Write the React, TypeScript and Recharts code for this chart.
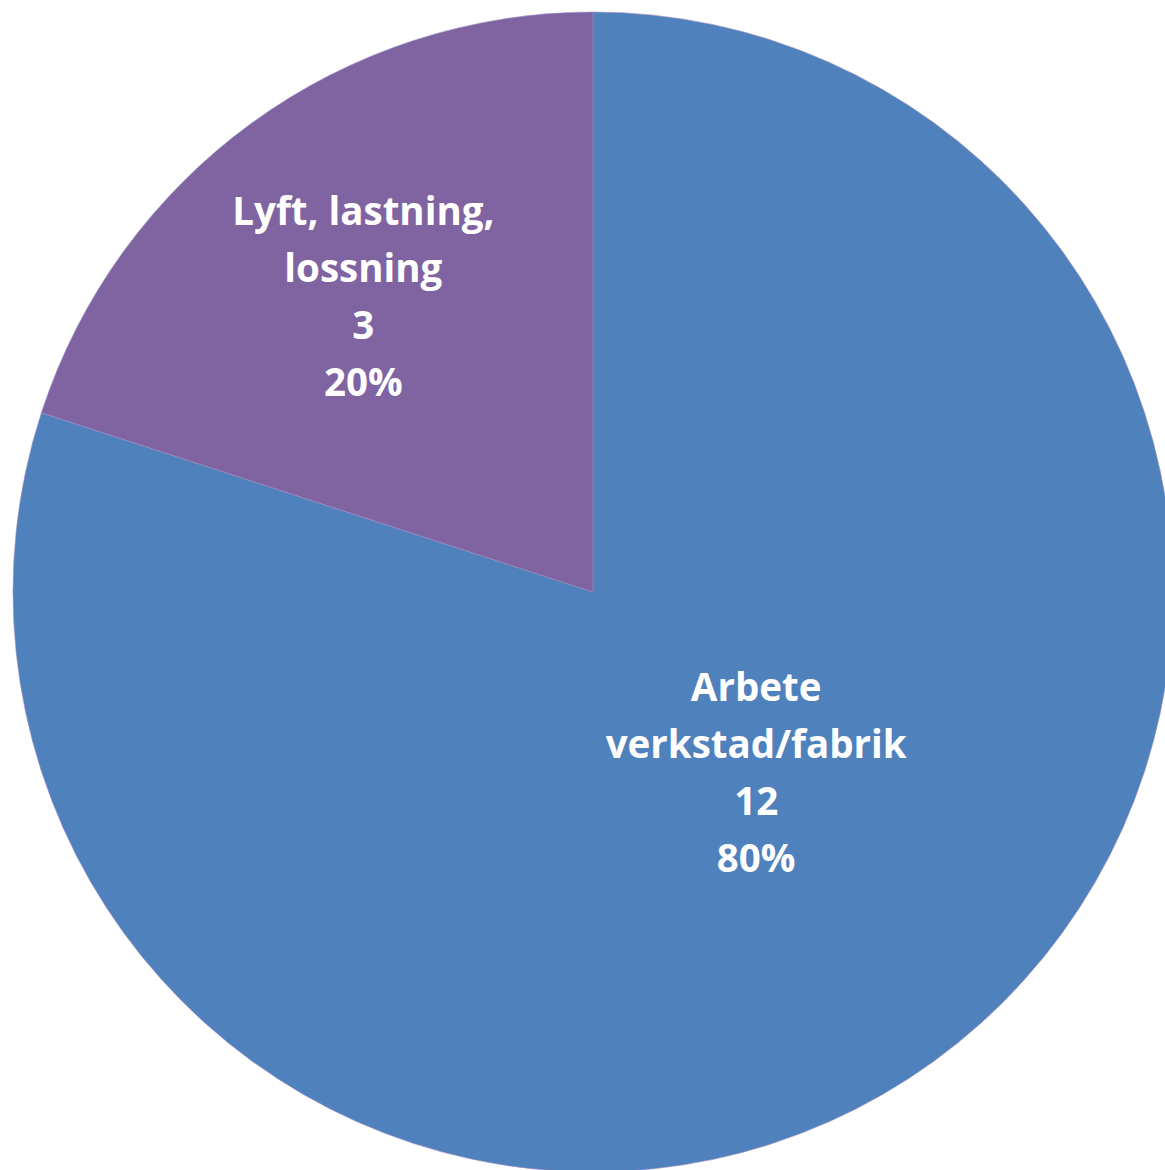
import React from "react";
import { PieChart, Pie, Cell } from "recharts";

const categories = ["Arbete verkstad/fabrik", "Lyft, lastning, lossning"];
const values = [12, 3];
const labelLines = [
  ["Arbete", "verkstad/fabrik"],
  ["Lyft, lastning,", "lossning"],
];
const colors = ["#4F81BD", "#8064A2"];

const data = categories.map((name, i) => ({ name, value: values[i], lines: labelLines[i] }));

const RAD = Math.PI / 180;
const labelRadius = [0.418, 0.646];
const angleShift = [6.3, 1.8];

const renderLabel = (props: any) => {
  const { cx, cy, midAngle, outerRadius, index, percent, value } = props;
  const r = outerRadius * labelRadius[index];
  const a = (midAngle + angleShift[index]) * RAD;
  const x = cx + r * Math.cos(a);
  const y = cy - r * Math.sin(a);
  const lines = [...data[index].lines, String(value), `${Math.round(percent * 100)}%`];
  const lh = 57;
  const top = y - ((lines.length - 1) * lh) / 2;
  return (
    <text
      x={x}
      y={top}
      fill="#FFFFFF"
      textAnchor="middle"
      dominantBaseline="central"
      style={{ fontFamily: "'Open Sans', Lato, sans-serif", fontWeight: 700, fontSize: 38.5 }}
    >
      {lines.map((l, i) => (
        <tspan key={i} x={x} y={top + i * lh}>
          {l}
        </tspan>
      ))}
    </text>
  );
};

export default function App() {
  return (
    <div style={{ position: "absolute", left: 0, top: 0, width: 1165, height: 1170, overflow: "hidden", background: "#fff" }}>
      <PieChart width={1165} height={1170} margin={{ top: 0, right: 0, bottom: 0, left: 0 }}>
        <Pie
          data={data}
          dataKey="value"
          nameKey="name"
          cx={593}
          cy={592}
          outerRadius={580}
          startAngle={90}
          endAngle={-270}
          stroke="#9a8cc0"
          strokeWidth={0.6}
          label={renderLabel}
          labelLine={false}
          isAnimationActive={false}
        >
          {data.map((d, i) => (
            <Cell key={d.name} fill={colors[i]} />
          ))}
        </Pie>
      </PieChart>
    </div>
  );
}
